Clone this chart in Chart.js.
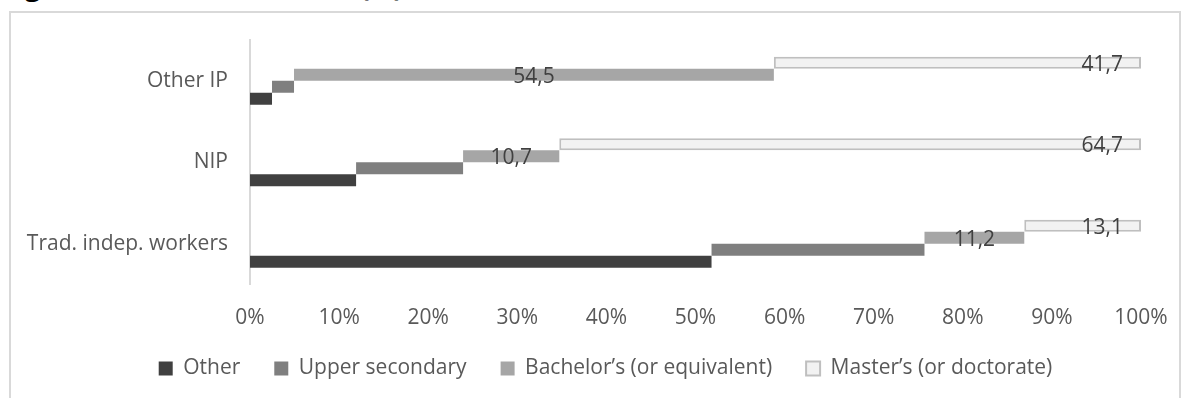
<!DOCTYPE html>
<html>
<head>
<meta charset="utf-8">
<script src="https://cdn.jsdelivr.net/npm/chart.js@4.4.1/dist/chart.umd.min.js"></script>
<style>
  html, body { margin: 0; padding: 0; background: #fff; overflow: hidden; }
  body { width: 1189px; height: 398px; position: relative; font-family: "Open Sans", sans-serif; }
  #frame { position: absolute; left: 9px; top: 11px; width: 1172px; height: 420px; border: 2px solid #d9d9d9; box-sizing: border-box; }
  #title { position: absolute; left: 2px; top: -30px; line-height: 32px; font-weight: bold; font-size: 27px; color: #000; white-space: nowrap; }
  #chart { position: absolute; left: 0; top: 0; }
</style>
</head>
<body>
<div id="frame"></div>
<div id="title">Figure 4: Educational level (%)</div>
<canvas id="chart" width="1189" height="398"></canvas>
<script>
// categories, top to bottom
var categories = ['Other IP', 'NIP', 'Trad. indep. workers'];
var seriesNames = ['Other', 'Upper secondary', 'Bachelor’s (or equivalent)', 'Master’s (or doctorate)'];

// shares (100% stacked)
var otherValues = [2.5, 11.8, 51.8];
var upperValues = [2.5, 11.9, 23.9];
var bachelorValues = [54.5, 10.7, 11.2];
var masterValues = [41.7, 64.7, 13.1];

var tickValues = [0, 10, 20, 30, 40, 50, 60, 70, 80, 90, 100];

var allSeries = [otherValues, upperValues, bachelorValues, masterValues];
var fillColors = ['#404040', '#7f7f7f', '#a6a6a6', '#f2f2f2'];
var lineColors = ['#404040', '#7f7f7f', '#a6a6a6', '#bfbfbf'];

// each row is normalised to 100, every series becomes a floating bar [start, end]
var ranges = allSeries.map(function () { return []; });
categories.forEach(function (cat, i) {
    var total = 0;
    allSeries.forEach(function (s) { total += s[i]; });
    var acc = 0;
    allSeries.forEach(function (s, k) {
        var start = acc / total * 100;
        acc += s[i];
        ranges[k].push([start, acc / total * 100]);
    });
});

// Master's first so that it sits on top of each group
var datasets = [];
for (var k = allSeries.length - 1; k >= 0; k--) {
    datasets.push({
        label: seriesNames[k],
        data: ranges[k],
        raw: allSeries[k],
        backgroundColor: fillColors[k],
        borderColor: lineColors[k],
        borderWidth: k === 3 ? 2 : 0,
        borderSkipped: false,
        categoryPercentage: 0.59,
        barPercentage: 1,
        showLabels: k >= 2,
        labelPos: k === 3 ? 'end' : 'center'
    });
}

var font = { family: '"Open Sans", sans-serif', size: 21 };

// value labels (Bachelor's centred, Master's inside end)
var valueLabels = {
    id: 'valueLabels',
    afterDatasetsDraw: function (chart) {
        var ctx = chart.ctx;
        ctx.save();
        ctx.font = '21px "Open Sans"';
        ctx.fillStyle = '#404040';
        ctx.textBaseline = 'middle';
        chart.data.datasets.forEach(function (ds, di) {
            if (!ds.showLabels) return;
            chart.getDatasetMeta(di).data.forEach(function (bar, i) {
                var txt = ds.raw[i].toFixed(1).replace('.', ',');
                if (ds.labelPos === 'end') {
                    ctx.textAlign = 'right';
                    ctx.fillText(txt, bar.x - 18, bar.y + 2);
                } else {
                    ctx.textAlign = 'center';
                    ctx.fillText(txt, (bar.x + bar.base) / 2, bar.y + 2);
                }
            });
        });
        ctx.restore();
    }
};

new Chart(document.getElementById('chart'), {
    type: 'bar',
    data: { labels: categories, datasets: datasets },
    plugins: [valueLabels],
    options: {
        indexAxis: 'y',
        responsive: false,
        animation: false,
        layout: { padding: { left: 22, right: 0, top: 40, bottom: 9 } },
        scales: {
            x: {
                min: 0,
                max: 100,
                afterBuildTicks: function (scale) {
                    scale.ticks = tickValues.map(function (v) { return { value: v }; });
                },
                afterFit: function (scale) {
                    scale.height = 39.5;
                    scale.paddingRight = 48;
                },
                ticks: {
                    callback: function (v) { return v + '%'; },
                    color: '#595959',
                    font: font,
                    padding: 21,
                    maxRotation: 0
                },
                grid: { display: false, drawTicks: false },
                border: { display: false }
            },
            y: {
                afterFit: function (scale) { scale.width = 228; },
                ticks: { color: '#595959', font: font, padding: 22 },
                grid: { display: false, drawTicks: false },
                border: { display: true, color: '#d9d9d9', width: 2 }
            }
        },
        plugins: {
            legend: {
                position: 'bottom',
                reverse: true,
                labels: {
                    boxWidth: 14,
                    boxHeight: 14,
                    padding: 34,
                    color: '#595959',
                    font: font
                }
            },
            tooltip: { enabled: false }
        }
    }
});
</script>
</body>
</html>
